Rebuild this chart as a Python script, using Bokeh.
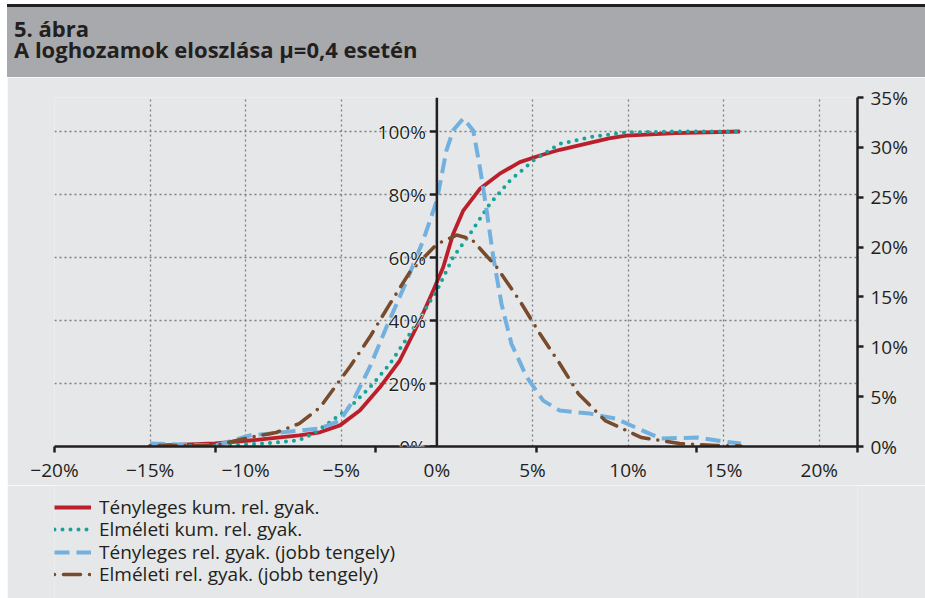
import numpy as np
from bokeh.plotting import figure
from bokeh.models import (Range1d, LinearAxis, FixedTicker, Grid, Span, LabelSet,
                          ColumnDataSource, Legend, LegendItem, Div)
from bokeh.core.properties import value
from bokeh.layouts import column
from bokeh.embed import file_html
from bokeh.resources import INLINE

FONT = "Open Sans"
INK = "#231f20"
BG = "#e6e7e8"
BAND = "#a7a9ac"
FS = "19px"

title_line1 = "5. ábra"
title_line2 = "A loghozamok eloszlása μ=0,4 esetén"

# axes (values in percent)
x_ticks = [-20, -15, -10, -5, 0, 5, 10, 15, 20]
x_tick_labels = ["−20%", "−15%", "−10%", "−5%", "0%", "5%", "10%", "15%", "20%"]
left_ticks = [0, 20, 40, 60, 80, 100]
left_tick_labels = ["0%", "20%", "40%", "60%", "80%", "100%"]
right_ticks = [0, 5, 10, 15, 20, 25, 30, 35]
right_tick_labels = ["0%", "5%", "10%", "15%", "20%", "25%", "30%", "35%"]

# Tényleges kum. rel. gyak. (left axis)
act_cum_x = [-15.0, -11.6, -9.8, -7.2, -6.12, -5.07, -4.03, -2.98, -1.94, -0.89, -0.19, 0.33, 0.85,
             1.38, 2.25, 3.29, 4.34, 5.39, 6.43, 9.0, 9.9, 12.5, 15.85]
act_cum_y = [0.2, 1.0, 1.9, 3.5, 4.5, 6.7, 11.4, 18.8, 27.3, 40.0, 49.5, 56.9, 67.5,
             74.9, 81.8, 86.6, 90.3, 92.4, 94.2, 97.8, 98.7, 99.5, 100.0]

# Elméleti kum. rel. gyak. (left axis)
theo_cum_x = [-15.0, -11.6, -8.9, -7.2, -6.5, -5.6, -4.55, -3.5, -2.46, -1.41, -0.54, 0.0, 0.85,
              1.73, 2.77, 3.82, 5.04, 6.43, 8.2, 9.9, 12.5, 15.85]
theo_cum_y = [0.0, 0.2, 1.0, 2.0, 4.0, 7.7, 12.5, 18.8, 26.2, 35.8, 44.2, 49.5, 60.1,
              67.5, 77.0, 84.4, 90.8, 96.1, 98.4, 99.7, 100.0, 100.0]

# Tényleges rel. gyak. (right axis)
act_rel_x = [-15.0, -11.6, -9.8, -7.2, -6.12, -5.07, -4.38, -3.5, -2.63, -1.58, -0.71, 0.0, 0.5,
             0.85, 1.38, 1.9, 2.25, 2.6, 2.95, 3.38, 3.9, 4.69, 5.56, 6.43, 8.0, 9.35, 10.4,
             11.7, 13.6, 15.0, 15.9]
act_rel_y = [0.3, 0.1, 1.1, 1.6, 1.8, 2.6, 4.6, 8.0, 12.0, 16.6, 20.7, 24.7, 29.7,
             31.7, 32.9, 31.7, 28.0, 23.7, 19.0, 14.3, 10.3, 7.0, 4.6, 3.6, 3.3, 2.8, 1.9,
             0.8, 0.9, 0.5, 0.3]

# Elméleti rel. gyak. (right axis)
theo_rel_x = [-15.0, -11.6, -9.8, -8.4, -7.2, -6.12, -4.55, -3.5, -2.46, -1.41, 0.0, 1.03, 1.81,
              3.12, 4.34, 5.39, 6.43, 7.4, 8.8, 10.7, 12.7, 14.6, 15.9]
theo_rel_y = [0.1, 0.1, 0.9, 1.4, 2.3, 3.9, 8.0, 11.0, 14.3, 17.5, 20.3, 21.2, 20.8,
              18.0, 14.6, 11.3, 8.3, 5.3, 2.6, 0.9, 0.3, 0.1, 0.05]

legend_labels = ["Tényleges kum. rel. gyak.", "Elméleti kum. rel. gyak.",
                 "Tényleges rel. gyak. (jobb tengely)", "Elméleti rel. gyak. (jobb tengely)"]

series = [(act_cum_x, act_cum_y, "default"), (theo_cum_x, theo_cum_y, "default"),
          (act_rel_x, act_rel_y, "right"), (theo_rel_x, theo_rel_y, "right")]

X_START, X_END = -20, 22
Y_LEFT_END = 110.8
Y_RIGHT_END = 35

W = 918
H = 408
FRAME_L, FRAME_T, FRAME_R_BORDER, FRAME_B_BORDER = 47, 20, 68, 39
LEG_H = 113
LEG_ROW = 22.3
LEG_FIRST_CENTER = 22  # px below legend strip top
LEG_BOX_H = 26

STYLES = [
    dict(line_color="#bb1f2b", line_width=3.8, line_join="round"),
    dict(line_color="#17a398", line_width=4, line_dash="0 8", line_cap="round"),
    dict(line_color="#72b1df", line_width=4, line_dash="15 7", line_join="round"),
    dict(line_color="#774b2c", line_width=3.6, line_dash="17 9 0 9", line_dash_offset=26,
         line_cap="round"),
]

p = figure(width=W, height=H, output_backend="svg", toolbar_location=None,
           x_range=Range1d(X_START, X_END), y_range=Range1d(0, Y_LEFT_END),
           x_axis_location=None, y_axis_location=None,
           min_border_left=FRAME_L, min_border_top=FRAME_T,
           min_border_right=FRAME_R_BORDER, min_border_bottom=FRAME_B_BORDER,
           background_fill_color=BG, border_fill_color=BG, margin=(0, 0, 0, 7))
p.outline_line_color = None
p.extra_y_ranges = {"right": Range1d(0, Y_RIGHT_END)}

GRID_COLOR = "#7d7f82"
xg = Grid(dimension=0, ticker=FixedTicker(ticks=x_ticks), grid_line_color=GRID_COLOR,
          grid_line_dash="2 3", grid_line_width=1.3)
yg = Grid(dimension=1, ticker=FixedTicker(ticks=left_ticks), grid_line_color=GRID_COLOR,
          grid_line_dash="2 3", grid_line_width=1.3)
p.add_layout(xg)
p.add_layout(yg)

# series
for (sx, sy, rng), st in zip(series, STYLES):
    p.line(sx, sy, y_range_name=rng, **st)

# vertical axis at x = 0
p.add_layout(Span(location=0, dimension="height", line_color=INK, line_width=2.5))
frame_w = W - FRAME_L - FRAME_R_BORDER
tick_len = 7 * (X_END - X_START) / frame_w
p.segment(x0=[0] * len(left_ticks), y0=left_ticks, x1=[-tick_len] * len(left_ticks),
          y1=left_ticks, line_color=INK, line_width=2.5)
lsrc = ColumnDataSource(dict(x=[0] * len(left_ticks), y=left_ticks, t=left_tick_labels))
halo = LabelSet(x="x", y="y", text="t", source=lsrc, x_offset=-11,
                text_align="right", text_baseline="middle", text_font=value(FONT),
                text_font_size=value(FS), text_color="white", text_outline_color="white")
ink = LabelSet(x="x", y="y", text="t", source=lsrc, x_offset=-11,
               text_align="right", text_baseline="middle", text_font=value(FONT),
               text_font_size=value(FS), text_color=INK)
p.add_layout(halo)
p.add_layout(ink)

# right axis
raxis = LinearAxis(y_range_name="right", ticker=FixedTicker(ticks=right_ticks),
                   major_label_overrides=dict(zip(right_ticks, right_tick_labels)),
                   axis_line_color=INK, axis_line_width=2.5,
                   major_tick_line_color=INK, major_tick_line_width=2.5,
                   major_tick_out=6, major_tick_in=0, minor_tick_line_color=None,
                   major_label_standoff=7, major_label_text_font=FONT,
                   major_label_text_font_size=FS, major_label_text_color=INK)
p.add_layout(raxis, "right")

# bottom axis: tick marks (secondary category spacing)
odd_ticks = [float(t) for t in np.linspace(X_START, X_END, 6)]
axA = LinearAxis(ticker=FixedTicker(ticks=odd_ticks),
                 major_label_overrides={t: "" for t in odd_ticks},
                 major_label_text_font_size="0px", major_label_standoff=0,
                 axis_line_color=INK, axis_line_width=2.5,
                 major_tick_line_color=INK, major_tick_line_width=2.5,
                 major_tick_out=6, major_tick_in=0, minor_tick_line_color=None)
axB = LinearAxis(ticker=FixedTicker(ticks=x_ticks),
                 major_label_overrides=dict(zip(x_ticks, x_tick_labels)),
                 axis_line_color=None, major_tick_line_color=None, minor_tick_line_color=None,
                 major_tick_out=0, major_tick_in=0, major_label_standoff=4,
                 major_label_text_font=FONT, major_label_text_font_size=FS,
                 major_label_text_color=INK)
p.add_layout(axA, "below")
p.add_layout(axB, "below")

# legend strip (same series, out of view; only the legend samples show)
lf = figure(width=W, height=LEG_H, output_backend="svg", toolbar_location=None,
            x_range=Range1d(X_START, X_END), y_range=Range1d(-200, -100),
            x_axis_location=None, y_axis_location=None,
            min_border=0, min_border_left=0, min_border_right=0,
            min_border_top=0, min_border_bottom=0,
            background_fill_color=BG, border_fill_color=BG, margin=(0, 0, 0, 7))
lf.outline_line_color = None
lf.xgrid.visible = False
lf.ygrid.visible = False
for i, ((sx, sy, _), st, lab) in enumerate(zip(series, STYLES, legend_labels)):
    r = lf.line(sx, sy, **st)
    center_from_bottom = LEG_H - (LEG_FIRST_CENTER + i * LEG_ROW)
    lg = Legend(items=[LegendItem(label=lab, renderers=[r])],
                location=(0, center_from_bottom - LEG_BOX_H / 2),
                background_fill_alpha=0, border_line_color=None,
                padding=0, margin=0, spacing=0, glyph_width=37, glyph_height=22,
                label_height=22, label_standoff=8, label_text_font=FONT,
                label_text_font_size=FS, label_text_color=INK)
    lf.add_layout(lg, "center")

title_html = (
    f'<div style="width:918px;height:73px;box-sizing:border-box;background:{BAND};'
    f'border-top:3px solid {INK};font-family:\'Open Sans\';font-weight:bold;font-size:22px;'
    f'line-height:20.7px;color:{INK};padding:11px 0 0 7px;">'
    f'{title_line1}<br>{title_line2}</div>')
div = Div(text=title_html, width=918, height=73, margin=(4, 0, 0, 7))

layout = column(div, p, lf, spacing=0)
open("out.html", "w").write(file_html(layout, INLINE))
